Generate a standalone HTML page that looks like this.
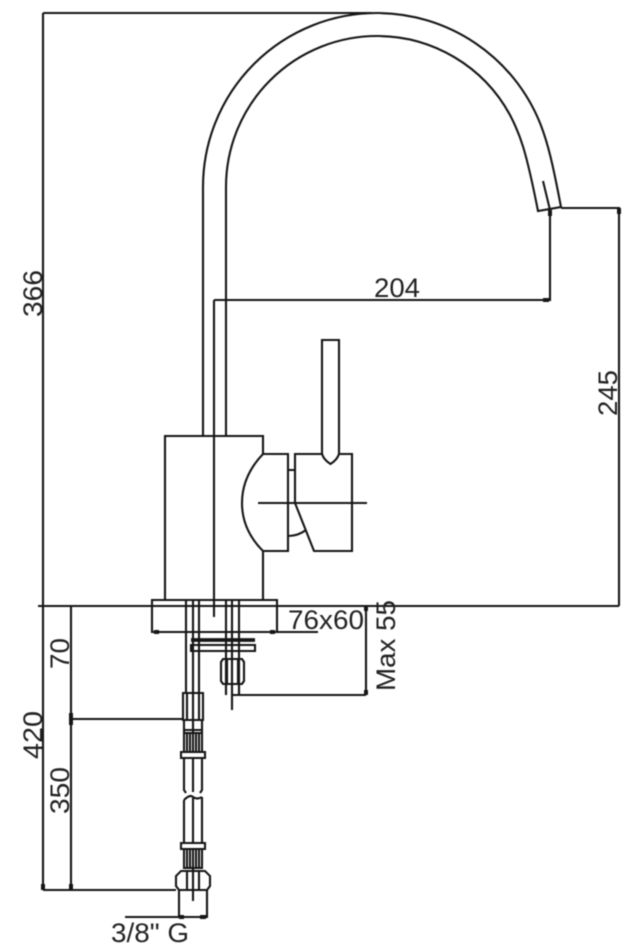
<!DOCTYPE html>
<html><head><meta charset="utf-8"><style>
html,body{margin:0;padding:0;background:#fff}
svg{display:block;filter:blur(.4px)}
text{font-family:"Liberation Sans",sans-serif;fill:#222;font-size:27px}
</style></head><body>
<svg width="638" height="950" viewBox="0 0 638 950" xmlns="http://www.w3.org/2000/svg">
<g fill="none" stroke="#161616" stroke-width="2.1">
<!-- spout -->
<path d="M203 436V187A174 174 0 0 1 377 13A176 176 0 0 1 540 123C548 143 553 165 561 207L538 211C526 150 520 134 510 115A151 151 0 0 0 377 36A151 151 0 0 0 226 187V436"/>
<path d="M543 181L550 210"/>
<!-- body -->
<path d="M263 454V436H165V600M263 551V600"/>
<path d="M152 606V600H277V632H152V606"/>
<!-- handle -->
<path d="M263 454H288V551H263Q242 530 242 503Q242 476 263 454Z"/>
<path d="M288 470H295M288 536Q298 536 306 530"/>
<path d="M295 503V454H322M339 454H352V551H314L295 503"/>
<path d="M322 454V340H339V454Q337 460 330.500 464Q324 460 322 454Z"/>
<path d="M258 503H367"/>
<!-- centre -->
<path d="M214 300V617"/>
<!-- dims -->
<path d="M43 13H372M43 13V890M38 606H619M71 606V890M43 890H176M71 719H183"/>
<path d="M214 300H550V208M561 208H619V606"/>
<path d="M277 632H318M366 606V695M232 695H366"/>
<!-- bolts through base -->
<path d="M186 600V693M193 600V693M199 600V693M226 600V695M232 600V710M239 600V695"/>
<!-- washer -->
<path d="M191 640H255" stroke-width="3.800"/>
<path d="M191 645H255V651H191Z"/>
<!-- mounting nut -->
<path d="M223 659H242L244 662V681L242 684H223L221 681V662ZM227 659V684M238 659V684M226 684V695M239 684V695"/>
<!-- hose -->
<path d="M183 693H203V720H183ZM187 693V720M193 693V720M199 693V720"/>
<path d="M184 720V733M202 720V733M184 730H202M193 720V733"/>
<path d="M184 733H202V752H184ZM187 733V752M190 733V752M193 733V752M196 733V752M199 733V752"/>
<path d="M181 752H205V758H181Z"/>
<path d="M184 758V790L186 793M202 758V790L200 793M193 758V792"/>
<path d="M184 800Q190 794 193 797Q197 800 202 797M184 800V843M202 797V843M193 798V843"/>
<path d="M181 843H205V849H181Z"/>
<path d="M184 849H202V868H184ZM187 849V868M190 849V868M193 849V868M196 849V868M199 849V868"/>
<path d="M181 871H205L210 876V886L207 890H179L176 886V876ZM187 871V890M199 871V890"/>
<path d="M179 890V917H207V890M193 868V901M125 917H207"/>
</g>
<g fill="#161616">
<rect x="548" y="210" width="4" height="6"/><rect x="617" y="208" width="4" height="6"/>
<rect x="543" y="298" width="6" height="4"/><rect x="41" y="884" width="4" height="6"/>
<rect x="69" y="884" width="4" height="6"/><rect x="69" y="713" width="4" height="12"/>
<rect x="364" y="606" width="4" height="5"/><rect x="364" y="690" width="4" height="5"/>
<rect x="154" y="630" width="5" height="4"/><rect x="270" y="630" width="5" height="4"/>
<rect x="179" y="915" width="5" height="4"/><rect x="200" y="915" width="6" height="4"/>
</g>
<text x="374" y="297" textLength="46" lengthAdjust="spacingAndGlyphs">204</text>
<text x="288" y="629" textLength="76" lengthAdjust="spacingAndGlyphs">76x60</text>
<text x="111" y="942" textLength="78" lengthAdjust="spacingAndGlyphs">3/8" G</text>
<text transform="translate(42 317) rotate(-90)" textLength="47" lengthAdjust="spacingAndGlyphs">366</text>
<text transform="translate(617 416) rotate(-90)" textLength="46" lengthAdjust="spacingAndGlyphs">245</text>
<text transform="translate(395 691) rotate(-90)" textLength="91" lengthAdjust="spacingAndGlyphs">Max 55</text>
<text transform="translate(69 669) rotate(-90)" textLength="31" lengthAdjust="spacingAndGlyphs">70</text>
<text transform="translate(42 759) rotate(-90)" textLength="48" lengthAdjust="spacingAndGlyphs">420</text>
<text transform="translate(69 814) rotate(-90)" textLength="47" lengthAdjust="spacingAndGlyphs">350</text>
</svg>
</body></html>
